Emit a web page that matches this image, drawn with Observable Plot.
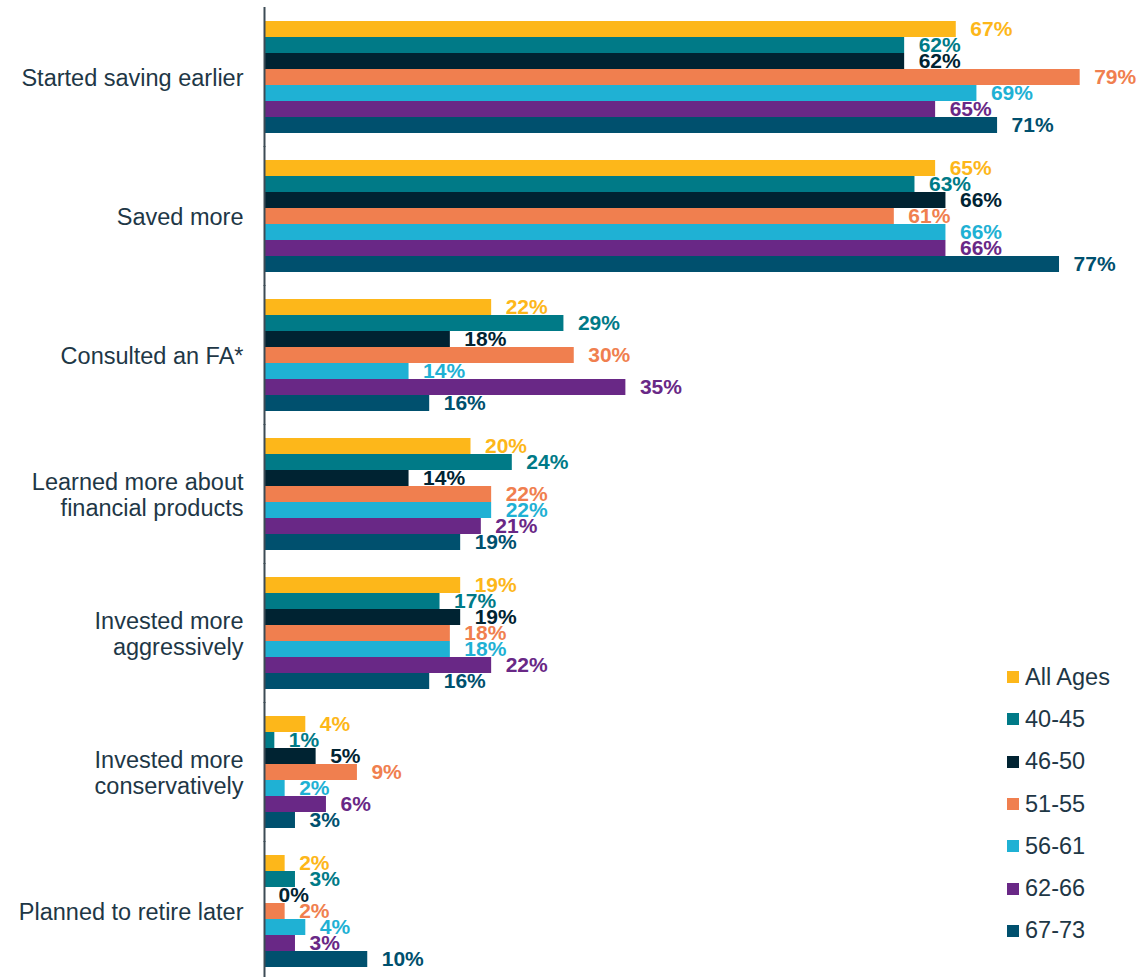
<!DOCTYPE html>
<html>
<head>
<meta charset="utf-8">
<script src="https://cdn.jsdelivr.net/npm/d3@7"></script>
<script src="https://cdn.jsdelivr.net/npm/@observablehq/plot@0.6"></script>
<style>
  body { margin: 0; background: #fff; font-family: "Liberation Sans", Arial, sans-serif; }
  #wrap { position: relative; width: 1140px; height: 977px; }
  #legend { position: absolute; left: 1007px; top: 656px; }
  .item { display: flex; align-items: center; height: 42.3px; font-size: 23.5px; color: #1e3746; }
  .sw { width: 12px; height: 12px; margin-right: 6px; }
</style>
</head>
<body>
<div id="wrap"><div id="legend"></div></div>
<script>
const categories = [
  "Started saving earlier",
  "Saved more",
  "Consulted an FA*",
  "Learned more about\nfinancial products",
  "Invested more\naggressively",
  "Invested more\nconservatively",
  "Planned to retire later"
];
const seriesNames = ["All Ages", "40-45", "46-50", "51-55", "56-61", "62-66", "67-73"];
const allAges = [67, 65, 22, 20, 19, 4, 2];
const age40_45 = [62, 63, 29, 24, 17, 1, 3];
const age46_50 = [62, 66, 18, 14, 19, 5, 0];
const age51_55 = [79, 61, 30, 22, 18, 9, 2];
const age56_61 = [69, 66, 14, 22, 18, 2, 4];
const age62_66 = [65, 66, 35, 21, 22, 6, 3];
const age67_73 = [71, 77, 16, 19, 16, 3, 10];
const palette = ["#FDB71A", "#007A87", "#002332", "#F07F4F", "#1FB1D4", "#692886", "#00506E"];

const seriesValues = [allAges, age40_45, age46_50, age51_55, age56_61, age62_66, age67_73];
const rows = [];
categories.forEach((c, i) => {
  seriesNames.forEach((s, j) => rows.push({category: c, series: s, value: seriesValues[j][i]}));
});

const chart = Plot.plot({
  width: 1140,
  height: 977,
  marginLeft: 264,
  marginRight: 50,
  marginTop: 19,
  marginBottom: 9,
  style: {fontFamily: "'Liberation Sans', Arial, sans-serif", background: "#fff"},
  x: {domain: [0, 80], axis: null},
  y: {domain: seriesNames, axis: null, padding: 0},
  fy: {domain: categories, axis: null, paddingInner: 0.197, paddingOuter: 0},
  color: {domain: seriesNames, range: palette},
  marks: [
    Plot.barX(rows, {x: "value", y: "series", fy: "category", fill: "series"}),
    Plot.text(rows, {
      x: "value", y: "series", fy: "category", text: d => d.value + "%",
      fill: "series", textAnchor: "start", dx: 14, fontWeight: "bold", fontSize: 21
    }),
    Plot.text(categories, {
      fy: d => d, text: d => d, frameAnchor: "left", dx: -21, textAnchor: "end",
      fontSize: 23.5, lineHeight: 1.13, fill: "#1e3746"
    }),
    Plot.ruleX([0], {insetTop: -14, insetBottom: -14, stroke: "#3c4b55", strokeWidth: 2})
  ]
});
document.getElementById("wrap").prepend(chart);

const legend = document.getElementById("legend");
seriesNames.forEach((s, j) => {
  const it = document.createElement("div");
  it.className = "item";
  const sw = document.createElement("span");
  sw.className = "sw";
  sw.style.background = palette[j];
  const t = document.createElement("span");
  t.textContent = s;
  it.append(sw, t);
  legend.append(it);
});
</script>
</body>
</html>
